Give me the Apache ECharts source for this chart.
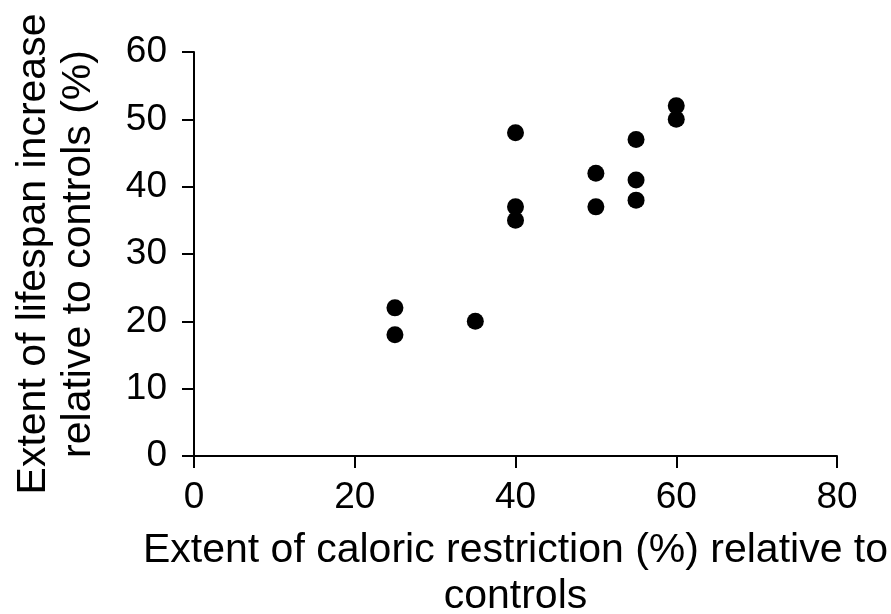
<!DOCTYPE html>
<html>
<head>
<meta charset="utf-8">
<script src="https://cdn.jsdelivr.net/npm/echarts@6/dist/echarts.min.js"></script>
<style>html,body{margin:0;padding:0;background:#fff;}#c{width:891px;height:614px;}</style>
</head>
<body>
<div id="c"></div>
<script>
const restriction = [25, 25, 35, 40, 40, 40, 50, 50, 55, 55, 55, 60, 60];
const lifespanIncrease = [22, 18, 20, 48, 37, 35, 42, 37, 47, 41, 38, 52, 50];
const xTicks = [0, 20, 40, 60, 80];
const yTicks = [0, 10, 20, 30, 40, 50, 60];
const xTitle = 'Extent of caloric restriction (%) relative to\ncontrols';
const yTitle = 'Extent of lifespan increase\nrelative to controls (%)';

const points = restriction.map((x, i) => [x, lifespanIncrease[i]]);
const font = 'Liberation Sans, Arial, sans-serif';
const chart = echarts.init(document.getElementById('c'));
chart.setOption({
  animation: false,
  backgroundColor: '#fff',
  grid: { left: 194, right: 54, top: 52, bottom: 158, containLabel: false, outerBoundsMode: 'none' },
  xAxis: {
    type: 'value', min: xTicks[0], max: xTicks[xTicks.length - 1], interval: 20,
    splitLine: { show: false },
    axisLine: { onZero: false, lineStyle: { color: '#000', width: 2 } },
    axisTick: { show: true, inside: false, length: 12, lineStyle: { color: '#000', width: 2 } },
    axisLabel: { color: '#000', fontSize: 37, fontFamily: font, margin: 23 },
    name: xTitle, nameLocation: 'middle', nameGap: 72,
    nameTextStyle: { color: '#000', fontSize: 41, fontFamily: font, lineHeight: 46 }
  },
  yAxis: {
    type: 'value', min: yTicks[0], max: yTicks[yTicks.length - 1], interval: 10,
    splitLine: { show: false },
    axisLine: { onZero: false, lineStyle: { color: '#000', width: 2 } },
    axisTick: { show: true, inside: false, length: 12, lineStyle: { color: '#000', width: 2 } },
    axisLabel: { color: '#000', fontSize: 37, fontFamily: font, margin: 27 },
    name: yTitle, nameLocation: 'middle', nameGap: 93, nameRotate: 90,
    nameTextStyle: { color: '#000', fontSize: 41, fontFamily: font, lineHeight: 45 }
  },
  series: [{
    type: 'scatter',
    data: points,
    symbol: 'circle',
    symbolSize: 17,
    itemStyle: { color: '#000', opacity: 1 }
  }]
});
</script>
</body>
</html>
